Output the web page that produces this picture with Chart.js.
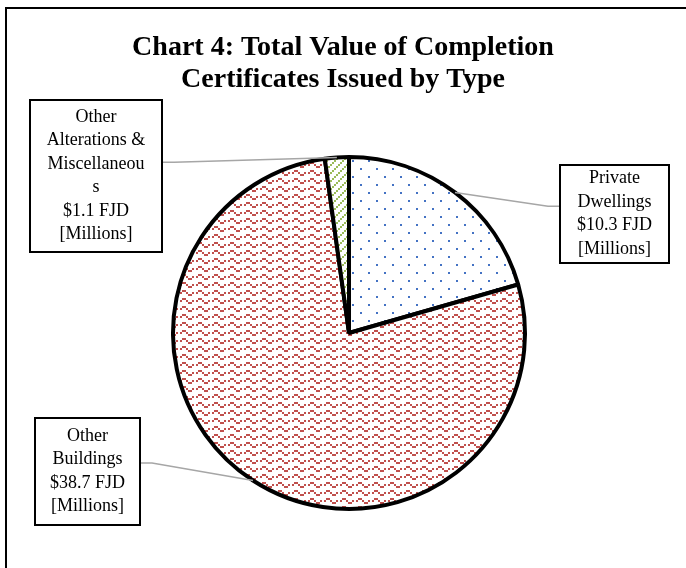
<!DOCTYPE html>
<html>
<head>
<meta charset="utf-8">
<script src="https://cdn.jsdelivr.net/npm/chart.js@4/dist/chart.umd.min.js"></script>
<style>
  html, body { margin: 0; padding: 0; background: #fff; }
  #wrap { width: 686px; height: 568px; position: relative; }
</style>
</head>
<body>
<div id="wrap"><canvas id="c" width="686" height="568"></canvas></div>
<script>
// ---- data ----
const titleLines = ['Chart 4: Total Value of Completion', 'Certificates Issued by Type'];
const categories = ['Private Dwellings', 'Other Buildings', 'Other Alterations & Miscellaneous'];
const values = [10.3, 38.7, 1.1];
const nameLines = [['Private', 'Dwellings'], ['Other', 'Buildings'], ['Other', 'Alterations &', 'Miscellaneou', 's']];
const unitText = 'FJD';
const unitLine = '[Millions]';

// ---- patterns ----
function makePattern(w, h, color, rects) {
  const c = document.createElement('canvas');
  c.width = w; c.height = h;
  const g = c.getContext('2d');
  g.fillStyle = '#ffffff';
  g.fillRect(0, 0, w, h);
  g.fillStyle = color;
  rects.forEach(r => g.fillRect(r[0], r[1], r[2], r[3]));
  return document.getElementById('c').getContext('2d').createPattern(c, 'repeat');
}
const dotPattern = makePattern(16, 16, '#4472C4', [[0, 0, 2, 2], [8, 8, 2, 2]]);
const wavePattern = makePattern(16, 8, '#C0504D', [[6, 2, 4, 2], [0, 4, 2, 2], [4, 4, 2, 2], [10, 4, 2, 2], [12, 6, 4, 2]]);
const diagPattern = makePattern(8, 8, '#9BBB59', [[6, 0, 2, 2], [4, 2, 2, 2], [2, 4, 2, 2], [0, 6, 2, 2]]);

// label box layout (x, y, w, h)
const boxes = [
  { x: 560, y: 165, w: 109, h: 98, side: 'left' },
  { x: 35, y: 418, w: 105, h: 107, side: 'right' },
  { x: 30, y: 100, w: 132, h: 152, side: 'right' }
];

const framePlugin = {
  id: 'frame',
  beforeDraw(chart) {
    const ctx = chart.ctx;
    ctx.save();
    ctx.fillStyle = '#fff';
    ctx.fillRect(0, 0, chart.width, chart.height);
    ctx.strokeStyle = '#000';
    ctx.lineWidth = 2;
    ctx.beginPath();
    ctx.moveTo(6, chart.height);
    ctx.lineTo(6, 8);
    ctx.lineTo(chart.width, 8);
    ctx.stroke();
    // title
    ctx.fillStyle = '#000';
    ctx.font = 'bold 28px "Liberation Serif", "Times New Roman", serif';
    ctx.textAlign = 'center';
    ctx.textBaseline = 'alphabetic';
    ctx.fillText(titleLines[0], 343, 55);
    ctx.fillText(titleLines[1], 343, 87);
    ctx.restore();
  },
  afterDraw(chart) {
    const ctx = chart.ctx;
    const meta = chart.getDatasetMeta(0);
    ctx.save();
    meta.data.forEach((arc, i) => {
      const p = arc.getProps(['x', 'y', 'startAngle', 'endAngle', 'outerRadius'], true);
      const mid = (p.startAngle + p.endAngle) / 2;
      const ax = p.x + Math.cos(mid) * p.outerRadius;
      const ay = p.y + Math.sin(mid) * p.outerRadius;
      const b = boxes[i];
      const lines = nameLines[i].concat(['$' + values[i].toFixed(1) + ' ' + unitText, unitLine]);
      // leader
      ctx.strokeStyle = '#A6A6A6';
      ctx.lineWidth = 1.5;
      ctx.beginPath();
      const ey = b.y + b.h * (i === 2 ? 0.41 : 0.42);
      if (b.side === 'left') {
        ctx.moveTo(b.x, ey);
        ctx.lineTo(b.x - 12, ey);
      } else {
        ctx.moveTo(b.x + b.w, ey);
        ctx.lineTo(b.x + b.w + 12, ey);
      }
      ctx.lineTo(ax, ay);
      ctx.stroke();
      // box
      ctx.fillStyle = '#fff';
      ctx.fillRect(b.x, b.y, b.w, b.h);
      ctx.strokeStyle = '#000';
      ctx.lineWidth = 2;
      ctx.strokeRect(b.x, b.y, b.w, b.h);
      // text
      ctx.fillStyle = '#000';
      ctx.font = '18px "Liberation Serif", "Times New Roman", serif';
      ctx.textAlign = 'center';
      ctx.textBaseline = 'middle';
      const lh = 23.5;
      const cy = b.y + b.h / 2;
      const top = cy - (lines.length - 1) * lh / 2;
      lines.forEach((t, k) => ctx.fillText(t, b.x + b.w / 2, top + k * lh));
    });
    ctx.restore();
  }
};

new Chart(document.getElementById('c'), {
  type: 'pie',
  data: {
    labels: categories,
    datasets: [{
      data: values,
      backgroundColor: [dotPattern, wavePattern, diagPattern],
      borderColor: '#000',
      borderWidth: 4,
      radius: 176
    }]
  },
  options: {
    responsive: false,
    animation: false,
    devicePixelRatio: 1,
    layout: { padding: { left: 12, right: 0, top: 98, bottom: 0 } },
    plugins: {
      legend: { display: false },
      title: { display: false },
      tooltip: { enabled: false }
    }
  },
  plugins: [framePlugin]
});
</script>
</body>
</html>
